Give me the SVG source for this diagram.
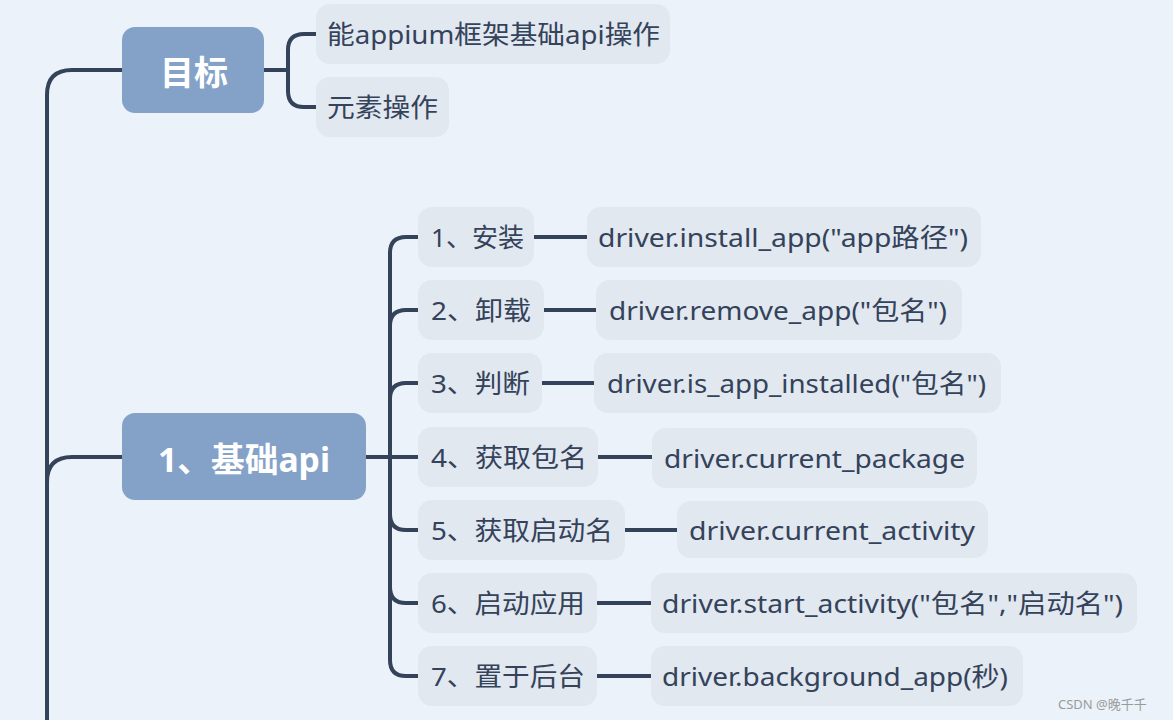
<svg xmlns="http://www.w3.org/2000/svg" width="1173" height="720" viewBox="0 0 1173 720">
<style>
.bg{fill:#ebf2fa}
.main rect{fill:#84a2c8}
.main text{fill:#ffffff;font-family:"Noto Sans","Noto Sans CJK SC",sans-serif;font-weight:bold;font-size:34px;dominant-baseline:central}
.leaf rect{fill:#e1e8f0}
.leaf text{fill:#34425a;font-family:"Noto Sans","Noto Sans CJK SC",sans-serif;font-size:26px;dominant-baseline:central}
.conn path{fill:none;stroke:#34435a;stroke-width:4;stroke-linecap:butt}
.wm{fill:#9a9a9a;font-family:"Noto Sans","Noto Sans CJK SC",sans-serif;font-size:13px}
</style>
<rect class="bg" x="0" y="0" width="1173" height="720"/>
<g id="connectors" class="conn">
<path d="M122,70 H72 Q47,70 47,95 V720"/>
<path d="M122,457 H72 Q47,457 47,482"/>
<path d="M264,70 H288"/>
<path d="M316,34 H304 Q288,34 288,50 V91 Q288,107 304,107 H316"/>
<path d="M366,457 H418"/>
<path d="M418,237 H406 Q390,237 390,253 V660 Q390,676 406,676 H418"/>
<path d="M418,310 H406 Q390,310 390,326"/>
<path d="M418,383 H406 Q390,383 390,399"/>
<path d="M390,514 Q390,530 406,530 H418"/>
<path d="M390,587 Q390,603 406,603 H418"/>
<path d="M534,237 H587"/>
<path d="M544,310 H596"/>
<path d="M542,383 H594"/>
<path d="M598,457 H652"/>
<path d="M625,530 H677"/>
<path d="M597,603 H651"/>
<path d="M597,676 H651"/>
</g>
<g id="goal" class="main"><rect x="122" y="27" width="142" height="86" rx="13"/><text x="160" y="72" textLength="68" lengthAdjust="spacingAndGlyphs">目标</text></g>
<g id="goal-1" class="leaf"><rect x="316" y="4" width="354" height="60" rx="14"/><text x="327" y="34" textLength="333" lengthAdjust="spacingAndGlyphs">能appium框架基础api操作</text></g>
<g id="goal-2" class="leaf"><rect x="316" y="77" width="133" height="60" rx="14"/><text x="327" y="107" textLength="111" lengthAdjust="spacingAndGlyphs">元素操作</text></g>
<g id="basic" class="main"><rect x="122" y="413" width="244" height="87" rx="13"/><text x="158" y="459" textLength="172" lengthAdjust="spacingAndGlyphs">1、基础api</text></g>
<g id="n1" class="leaf"><rect x="418" y="207" width="116" height="60" rx="14"/><text x="431" y="237" textLength="93" lengthAdjust="spacingAndGlyphs">1、安装</text></g>
<g id="n1c" class="leaf"><rect x="587" y="207" width="394" height="60" rx="14"/><text x="598" y="237" textLength="370" lengthAdjust="spacingAndGlyphs">driver.install_app("app路径")</text></g>
<g id="n2" class="leaf"><rect x="418" y="280" width="126" height="60" rx="14"/><text x="431" y="310" textLength="100" lengthAdjust="spacingAndGlyphs">2、卸载</text></g>
<g id="n2c" class="leaf"><rect x="596" y="280" width="366" height="60" rx="14"/><text x="609" y="310" textLength="338" lengthAdjust="spacingAndGlyphs">driver.remove_app("包名")</text></g>
<g id="n3" class="leaf"><rect x="418" y="353" width="124" height="60" rx="14"/><text x="431" y="383" textLength="99" lengthAdjust="spacingAndGlyphs">3、判断</text></g>
<g id="n3c" class="leaf"><rect x="594" y="353" width="407" height="60" rx="14"/><text x="607" y="383" textLength="379" lengthAdjust="spacingAndGlyphs">driver.is_app_installed("包名")</text></g>
<g id="n4" class="leaf"><rect x="418" y="427" width="180" height="60" rx="14"/><text x="431" y="457" textLength="156" lengthAdjust="spacingAndGlyphs">4、获取包名</text></g>
<g id="n4c" class="leaf"><rect x="652" y="428" width="325" height="60" rx="14"/><text x="664" y="458" textLength="301" lengthAdjust="spacingAndGlyphs">driver.current_package</text></g>
<g id="n5" class="leaf"><rect x="418" y="500" width="207" height="60" rx="14"/><text x="431" y="530" textLength="182" lengthAdjust="spacingAndGlyphs">5、获取启动名</text></g>
<g id="n5c" class="leaf"><rect x="677" y="501" width="311" height="57" rx="14"/><text x="689" y="530" textLength="286" lengthAdjust="spacingAndGlyphs">driver.current_activity</text></g>
<g id="n6" class="leaf"><rect x="418" y="573" width="179" height="60" rx="14"/><text x="431" y="603" textLength="154" lengthAdjust="spacingAndGlyphs">6、启动应用</text></g>
<g id="n6c" class="leaf"><rect x="651" y="573" width="486" height="60" rx="14"/><text x="662" y="603" textLength="461" lengthAdjust="spacingAndGlyphs">driver.start_activity("包名","启动名")</text></g>
<g id="n7" class="leaf"><rect x="418" y="646" width="179" height="60" rx="14"/><text x="431" y="676" textLength="154" lengthAdjust="spacingAndGlyphs">7、置于后台</text></g>
<g id="n7c" class="leaf"><rect x="651" y="646" width="372" height="60" rx="14"/><text x="662" y="676" textLength="346" lengthAdjust="spacingAndGlyphs">driver.background_app(秒)</text></g>
<text class="wm" x="1058" y="709">CSDN @晚千千</text>
</svg>
